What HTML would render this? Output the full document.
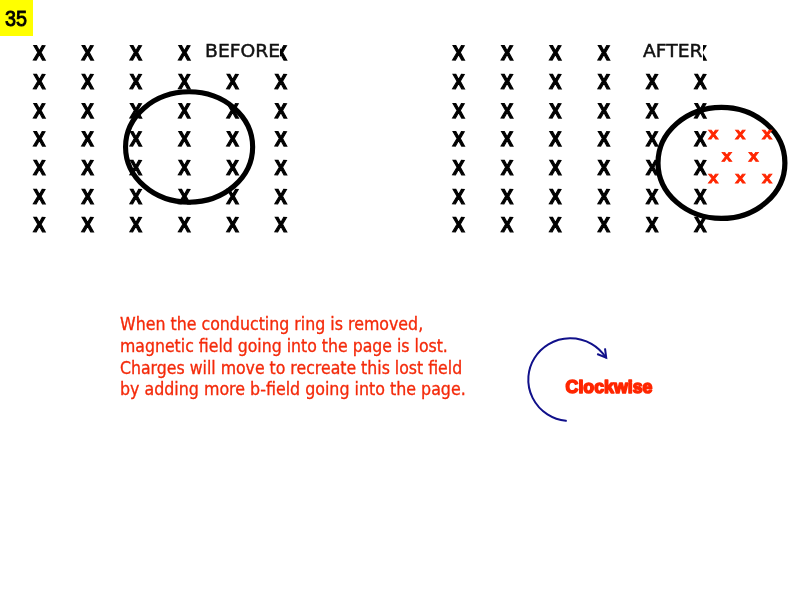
<!DOCTYPE html>
<html><head><meta charset="utf-8"><title>35</title>
<style>
html,body{margin:0;padding:0;background:#fff;}
body{width:800px;height:600px;position:relative;overflow:hidden;font-family:"Liberation Sans",sans-serif;}
.X{position:absolute;left:0;top:0;font-family:"Liberation Sans",sans-serif;font-weight:bold;font-size:20.8px;line-height:22px;width:20px;height:22px;text-align:center;color:#000;-webkit-text-stroke:1.25px #000;}
.x{position:absolute;left:0;top:0;font-family:"Liberation Sans",sans-serif;font-weight:bold;font-size:16.8px;line-height:20px;width:20px;height:20px;text-align:center;color:#ff2600;-webkit-text-stroke:0.8px #ff2600;}
.num{position:absolute;left:0;top:0;width:33px;height:35.5px;background:#ffff00;}
.num span{position:absolute;left:0;top:0;width:32px;text-align:center;font-family:"Liberation Sans",sans-serif;font-size:22.5px;line-height:37px;color:#000;-webkit-text-stroke:0.95px #000;transform:scaleX(0.88);}
.lab{position:absolute;background:#fff;color:#111;font-family:"DejaVu Sans",sans-serif;font-size:18.5px;line-height:22px;white-space:nowrap;-webkit-text-stroke:0.45px #111;}
.lab span{position:absolute;transform-origin:0 0;}
.p{position:absolute;left:119.6px;color:#f42a0a;font-family:"DejaVu Sans",sans-serif;font-size:17.7px;line-height:22px;white-space:nowrap;transform-origin:0 0;-webkit-text-stroke:0.35px #f42a0a;}
.cw{position:absolute;color:#ff2600;font-family:"DejaVu Sans",sans-serif;font-weight:bold;font-size:16px;line-height:20px;white-space:nowrap;transform-origin:0 0;}
svg{position:absolute;left:0;top:0;}
#wrap{position:absolute;left:0;top:0;width:800px;height:600px;will-change:transform;}
</style></head><body><div id="wrap">

<div class="X" style="transform:translate(29.38px,41.92px) rotate(0.3deg) scaleX(0.875)">X</div>
<div class="X" style="transform:translate(77.68px,41.92px) rotate(0.3deg) scaleX(0.875)">X</div>
<div class="X" style="transform:translate(125.98px,41.92px) rotate(0.3deg) scaleX(0.875)">X</div>
<div class="X" style="transform:translate(174.28px,41.92px) rotate(0.3deg) scaleX(0.875)">X</div>
<div class="X" style="transform:translate(222.58px,41.92px) rotate(0.3deg) scaleX(0.875)">X</div>
<div class="X" style="transform:translate(270.88px,41.92px) rotate(0.3deg) scaleX(0.875)">X</div>
<div class="X" style="transform:translate(29.38px,70.82px) rotate(0.3deg) scaleX(0.875)">X</div>
<div class="X" style="transform:translate(77.68px,70.82px) rotate(0.3deg) scaleX(0.875)">X</div>
<div class="X" style="transform:translate(125.98px,70.82px) rotate(0.3deg) scaleX(0.875)">X</div>
<div class="X" style="transform:translate(174.28px,70.82px) rotate(0.3deg) scaleX(0.875)">X</div>
<div class="X" style="transform:translate(222.58px,70.82px) rotate(0.3deg) scaleX(0.875)">X</div>
<div class="X" style="transform:translate(270.88px,70.82px) rotate(0.3deg) scaleX(0.875)">X</div>
<div class="X" style="transform:translate(29.38px,99.92px) rotate(0.3deg) scaleX(0.875)">X</div>
<div class="X" style="transform:translate(77.68px,99.92px) rotate(0.3deg) scaleX(0.875)">X</div>
<div class="X" style="transform:translate(125.98px,99.92px) rotate(0.3deg) scaleX(0.875)">X</div>
<div class="X" style="transform:translate(174.28px,99.92px) rotate(0.3deg) scaleX(0.875)">X</div>
<div class="X" style="transform:translate(222.58px,99.92px) rotate(0.3deg) scaleX(0.875)">X</div>
<div class="X" style="transform:translate(270.88px,99.92px) rotate(0.3deg) scaleX(0.875)">X</div>
<div class="X" style="transform:translate(29.38px,128.12px) rotate(0.3deg) scaleX(0.875)">X</div>
<div class="X" style="transform:translate(77.68px,128.12px) rotate(0.3deg) scaleX(0.875)">X</div>
<div class="X" style="transform:translate(125.98px,128.12px) rotate(0.3deg) scaleX(0.875)">X</div>
<div class="X" style="transform:translate(174.28px,128.12px) rotate(0.3deg) scaleX(0.875)">X</div>
<div class="X" style="transform:translate(222.58px,128.12px) rotate(0.3deg) scaleX(0.875)">X</div>
<div class="X" style="transform:translate(270.88px,128.12px) rotate(0.3deg) scaleX(0.875)">X</div>
<div class="X" style="transform:translate(29.38px,156.72px) rotate(0.3deg) scaleX(0.875)">X</div>
<div class="X" style="transform:translate(77.68px,156.72px) rotate(0.3deg) scaleX(0.875)">X</div>
<div class="X" style="transform:translate(125.98px,156.72px) rotate(0.3deg) scaleX(0.875)">X</div>
<div class="X" style="transform:translate(174.28px,156.72px) rotate(0.3deg) scaleX(0.875)">X</div>
<div class="X" style="transform:translate(222.58px,156.72px) rotate(0.3deg) scaleX(0.875)">X</div>
<div class="X" style="transform:translate(270.88px,156.72px) rotate(0.3deg) scaleX(0.875)">X</div>
<div class="X" style="transform:translate(29.38px,185.72px) rotate(0.3deg) scaleX(0.875)">X</div>
<div class="X" style="transform:translate(77.68px,185.72px) rotate(0.3deg) scaleX(0.875)">X</div>
<div class="X" style="transform:translate(125.98px,185.72px) rotate(0.3deg) scaleX(0.875)">X</div>
<div class="X" style="transform:translate(174.28px,185.72px) rotate(0.3deg) scaleX(0.875)">X</div>
<div class="X" style="transform:translate(222.58px,185.72px) rotate(0.3deg) scaleX(0.875)">X</div>
<div class="X" style="transform:translate(270.88px,185.72px) rotate(0.3deg) scaleX(0.875)">X</div>
<div class="X" style="transform:translate(29.38px,213.82px) rotate(0.3deg) scaleX(0.875)">X</div>
<div class="X" style="transform:translate(77.68px,213.82px) rotate(0.3deg) scaleX(0.875)">X</div>
<div class="X" style="transform:translate(125.98px,213.82px) rotate(0.3deg) scaleX(0.875)">X</div>
<div class="X" style="transform:translate(174.28px,213.82px) rotate(0.3deg) scaleX(0.875)">X</div>
<div class="X" style="transform:translate(222.58px,213.82px) rotate(0.3deg) scaleX(0.875)">X</div>
<div class="X" style="transform:translate(270.88px,213.82px) rotate(0.3deg) scaleX(0.875)">X</div>
<div class="X" style="transform:translate(448.68px,41.92px) rotate(0.3deg) scaleX(0.875)">X</div>
<div class="X" style="transform:translate(497.04px,41.92px) rotate(0.3deg) scaleX(0.875)">X</div>
<div class="X" style="transform:translate(545.40px,41.92px) rotate(0.3deg) scaleX(0.875)">X</div>
<div class="X" style="transform:translate(593.76px,41.92px) rotate(0.3deg) scaleX(0.875)">X</div>
<div class="X" style="transform:translate(642.12px,41.92px) rotate(0.3deg) scaleX(0.875)">X</div>
<div class="X" style="transform:translate(690.48px,41.92px) rotate(0.3deg) scaleX(0.875)">X</div>
<div class="X" style="transform:translate(448.68px,70.82px) rotate(0.3deg) scaleX(0.875)">X</div>
<div class="X" style="transform:translate(497.04px,70.82px) rotate(0.3deg) scaleX(0.875)">X</div>
<div class="X" style="transform:translate(545.40px,70.82px) rotate(0.3deg) scaleX(0.875)">X</div>
<div class="X" style="transform:translate(593.76px,70.82px) rotate(0.3deg) scaleX(0.875)">X</div>
<div class="X" style="transform:translate(642.12px,70.82px) rotate(0.3deg) scaleX(0.875)">X</div>
<div class="X" style="transform:translate(690.48px,70.82px) rotate(0.3deg) scaleX(0.875)">X</div>
<div class="X" style="transform:translate(448.68px,99.92px) rotate(0.3deg) scaleX(0.875)">X</div>
<div class="X" style="transform:translate(497.04px,99.92px) rotate(0.3deg) scaleX(0.875)">X</div>
<div class="X" style="transform:translate(545.40px,99.92px) rotate(0.3deg) scaleX(0.875)">X</div>
<div class="X" style="transform:translate(593.76px,99.92px) rotate(0.3deg) scaleX(0.875)">X</div>
<div class="X" style="transform:translate(642.12px,99.92px) rotate(0.3deg) scaleX(0.875)">X</div>
<div class="X" style="transform:translate(690.48px,99.92px) rotate(0.3deg) scaleX(0.875)">X</div>
<div class="X" style="transform:translate(448.68px,128.12px) rotate(0.3deg) scaleX(0.875)">X</div>
<div class="X" style="transform:translate(497.04px,128.12px) rotate(0.3deg) scaleX(0.875)">X</div>
<div class="X" style="transform:translate(545.40px,128.12px) rotate(0.3deg) scaleX(0.875)">X</div>
<div class="X" style="transform:translate(593.76px,128.12px) rotate(0.3deg) scaleX(0.875)">X</div>
<div class="X" style="transform:translate(642.12px,128.12px) rotate(0.3deg) scaleX(0.875)">X</div>
<div class="X" style="transform:translate(690.48px,128.12px) rotate(0.3deg) scaleX(0.875)">X</div>
<div class="X" style="transform:translate(448.68px,156.72px) rotate(0.3deg) scaleX(0.875)">X</div>
<div class="X" style="transform:translate(497.04px,156.72px) rotate(0.3deg) scaleX(0.875)">X</div>
<div class="X" style="transform:translate(545.40px,156.72px) rotate(0.3deg) scaleX(0.875)">X</div>
<div class="X" style="transform:translate(593.76px,156.72px) rotate(0.3deg) scaleX(0.875)">X</div>
<div class="X" style="transform:translate(642.12px,156.72px) rotate(0.3deg) scaleX(0.875)">X</div>
<div class="X" style="transform:translate(690.48px,156.72px) rotate(0.3deg) scaleX(0.875)">X</div>
<div class="X" style="transform:translate(448.68px,185.72px) rotate(0.3deg) scaleX(0.875)">X</div>
<div class="X" style="transform:translate(497.04px,185.72px) rotate(0.3deg) scaleX(0.875)">X</div>
<div class="X" style="transform:translate(545.40px,185.72px) rotate(0.3deg) scaleX(0.875)">X</div>
<div class="X" style="transform:translate(593.76px,185.72px) rotate(0.3deg) scaleX(0.875)">X</div>
<div class="X" style="transform:translate(642.12px,185.72px) rotate(0.3deg) scaleX(0.875)">X</div>
<div class="X" style="transform:translate(690.48px,185.72px) rotate(0.3deg) scaleX(0.875)">X</div>
<div class="X" style="transform:translate(448.68px,213.82px) rotate(0.3deg) scaleX(0.875)">X</div>
<div class="X" style="transform:translate(497.04px,213.82px) rotate(0.3deg) scaleX(0.875)">X</div>
<div class="X" style="transform:translate(545.40px,213.82px) rotate(0.3deg) scaleX(0.875)">X</div>
<div class="X" style="transform:translate(593.76px,213.82px) rotate(0.3deg) scaleX(0.875)">X</div>
<div class="X" style="transform:translate(642.12px,213.82px) rotate(0.3deg) scaleX(0.875)">X</div>
<div class="X" style="transform:translate(690.48px,213.82px) rotate(0.3deg) scaleX(0.875)">X</div>
<div class="lab" style="left:200px;top:38px;width:80px;height:26px;"><span style="left:5px;top:1.5px;transform:scaleX(1.015)">BEFORE</span></div>
<div class="lab" style="left:636px;top:38px;width:67px;height:26px;"><span style="left:6.6px;top:1.5px;transform:scaleX(1.012)">AFTER</span></div>
<svg width="800" height="600" viewBox="0 0 800 600">
<ellipse cx="189.1" cy="147" rx="63.55" ry="55.2" fill="none" stroke="#000" stroke-width="5.1"/>
<ellipse cx="721.45" cy="162.9" rx="63.45" ry="55.5" fill="none" stroke="#000" stroke-width="5.2"/>
<path d="M 565.9 420.8 A 42 41.4 0 1 1 605.6 357.2" fill="none" stroke="#10108a" stroke-width="2" stroke-linecap="round"/>
<path d="M 605 348.4 L 606.2 357.7 L 597.2 354" fill="none" stroke="#10108a" stroke-width="2" stroke-linejoin="miter"/>
</svg>
<div class="x" style="transform:translate(703.40px,124.05px) rotate(0.3deg) scaleX(1.09)">x</div>
<div class="x" style="transform:translate(730.30px,124.05px) rotate(0.3deg) scaleX(1.09)">x</div>
<div class="x" style="transform:translate(757.10px,124.05px) rotate(0.3deg) scaleX(1.09)">x</div>
<div class="x" style="transform:translate(716.90px,146.25px) rotate(0.3deg) scaleX(1.09)">x</div>
<div class="x" style="transform:translate(743.70px,146.25px) rotate(0.3deg) scaleX(1.09)">x</div>
<div class="x" style="transform:translate(703.40px,168.05px) rotate(0.3deg) scaleX(1.09)">x</div>
<div class="x" style="transform:translate(730.30px,168.05px) rotate(0.3deg) scaleX(1.09)">x</div>
<div class="x" style="transform:translate(757.10px,168.05px) rotate(0.3deg) scaleX(1.09)">x</div>
<div class="num"><span>35</span></div>
<div class="p" style="top:312.80px;transform:scaleX(0.8946)">When the conducting ring is removed,</div>
<div class="p" style="top:335.05px;transform:scaleX(0.8895)">magnetic field going into the page is lost.</div>
<div class="p" style="top:357.05px;transform:scaleX(0.8895)">Charges will move to recreate this lost field</div>
<div class="p" style="top:378.00px;transform:scaleX(0.8971)">by adding more b-field going into the page.</div>
<svg width="800" height="600" viewBox="0 0 800 600"><text x="565.6" y="392.6" font-family="Liberation Sans, sans-serif" font-weight="bold" font-size="17.6" fill="#ff2600" stroke="#ff2600" stroke-width="1.55" stroke-linejoin="round" textLength="86.8" lengthAdjust="spacingAndGlyphs">Clockwise</text></svg>
</div></body></html>
